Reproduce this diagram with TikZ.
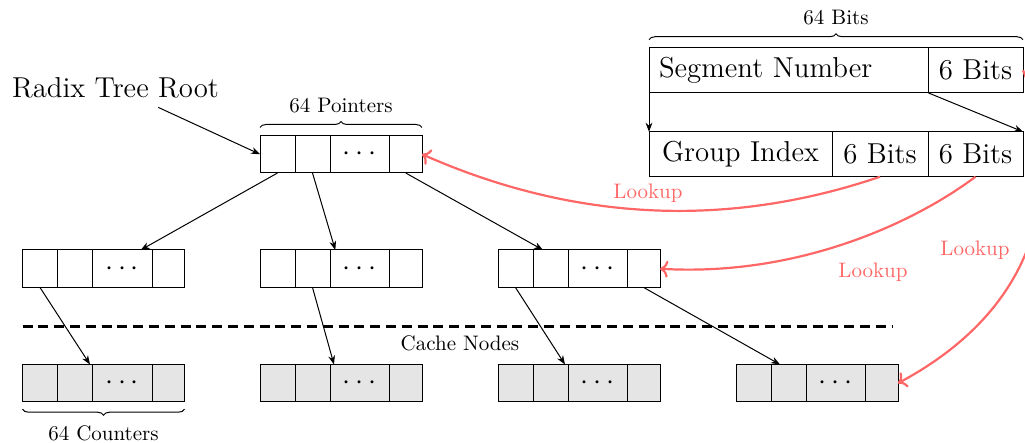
\documentclass[tikz,border=0pt]{standalone}
\usetikzlibrary{arrows.meta,decorations.pathreplacing,calc}
\definecolor{lk}{RGB}{255,102,102}
\definecolor{cachefill}{gray}{0.9}
\tikzset{
  cell/.style={draw, line width=0.5pt, minimum height=18.75pt, inner sep=0pt, outer sep=0pt, anchor=north west},
  field/.style={draw, line width=0.5pt, minimum height=22.5pt, inner sep=0pt, outer sep=0pt, anchor=north west, font=\Large},
  lbl/.style={font=\fontsize{10.5}{12}\selectfont},
  lookup/.style={lbl, text=lk},
  ptr/.style={line width=0.5pt, -{Stealth[length=4.5pt,width=3.4pt]}},
  redline/.style={draw=lk, line width=1.1pt, ->},
  brc/.style={decorate, decoration={brace, amplitude=3pt}, line width=0.5pt},
  sepline/.style={line width=1.3pt, dash pattern=on 5pt off 2.9pt}
}
\newcommand\mkcells[4]{%
  \node[cell, fill=#4, minimum width=17.5pt] (#1-1) at (#2,#3) {};
  \node[cell, fill=#4, minimum width=17.5pt] (#1-2) at (#1-1.north east) {};
  \node[cell, fill=#4, minimum width=29.75pt] (#1-3) at (#1-2.north east) {\Large$\cdots$};
  \node[cell, fill=#4, minimum width=16.25pt] (#1-4) at (#1-3.north east) {};
}
\begin{document}
\begin{tikzpicture}[x=0.5pt, y=-0.5pt]
\useasboundingbox (0,0) rectangle (1025,443);

% pointer arrays
\mkcells{root}{260}{135.5}{white}
\mkcells{La}{22.5}{250}{white}
\mkcells{Lb}{260}{250}{white}
\mkcells{Lc}{498}{250}{white}
\mkcells{Ca}{22.5}{364.5}{cachefill}
\mkcells{Cb}{260}{364.5}{cachefill}
\mkcells{Cc}{498}{364.5}{cachefill}
\mkcells{Cd}{736}{364.5}{cachefill}

% root label
\node[font=\Large, inner sep=4.5pt] (radix) at (115.5,87.7) {Radix Tree Root};
\draw[ptr] (radix) -- (root-1.west);

% tree arrows
\draw[ptr] (root-1.south) -- ([xshift=-5.65pt]La-3.north east);
\draw[ptr] (root-2.south) -- ([xshift=2.65pt]Lb-3.north west);
\draw[ptr] (root-4.south) -- ([xshift=5pt]Lc-2.north west);
\draw[ptr] (La-1.south) -- ([xshift=-1.25pt]Ca-3.north west);
\draw[ptr] (Lb-2.south) -- ([xshift=2pt]Cb-3.north west);
\draw[ptr] (Lc-1.south) -- ([xshift=-1.5pt]Cc-2.north east);
\draw[ptr] (Lc-4.south) -- ([xshift=4.5pt]Cd-2.north west);

% braces
\draw[brc] ([yshift=4pt]root-1.north west) -- ([yshift=4pt]root-4.north east);
\node[lbl] (ptrs) at (341,106) {64 Pointers};
\draw[brc] ([yshift=-3.6pt]Ca-4.south east) -- ([yshift=-3.6pt]Ca-1.south west);
\node[lbl] (ctrs) at (103.5,433.5) {64 Counters};

% separator
\draw[sepline] (22.5,326.5) -- (892,326.5);
\node[lbl] (cache) at (460,343.5) {Cache Nodes};

% bit fields
\node[field, text width=129.5pt, inner xsep=5pt, align=left] (seg) at (649,47.75) {Segment Number};
\node[field, minimum width=47.5pt] (seg6) at (seg.north east) {6 Bits};
\node[field, minimum width=91.5pt] (gi) at (649,131.75) {Group Index};
\node[field, minimum width=48pt] (gia) at (gi.north east) {6 Bits};
\node[field, minimum width=47.5pt] (gib) at (gia.north east) {6 Bits};
\draw[brc] ([yshift=4pt]seg.north west) -- ([yshift=4pt]seg6.north east);
\node[lbl] (bits) at (836,18) {64 Bits};
\draw[ptr] (seg.south west) -- (gi.north west);
\draw[ptr] (seg6.south west) -- (gib.north east);

% lookups
\draw[redline] (gia.south) .. controls +(-153,52) and +(152,67) .. (root-4.east);
\draw[redline] (gib.south) .. controls +(-60,45) and +(140,8) .. (Lc-4.east);
\draw[redline] (seg6.east) .. controls +(22,52) and +(186,-100) .. (Cd-4.east);
\node[lookup] (lk1) at (648,193) {Lookup};
\node[lookup] (lk2) at (873,272) {Lookup};
\node[lookup] (lk3) at (975,250) {Lookup};
\end{tikzpicture}
\end{document}
